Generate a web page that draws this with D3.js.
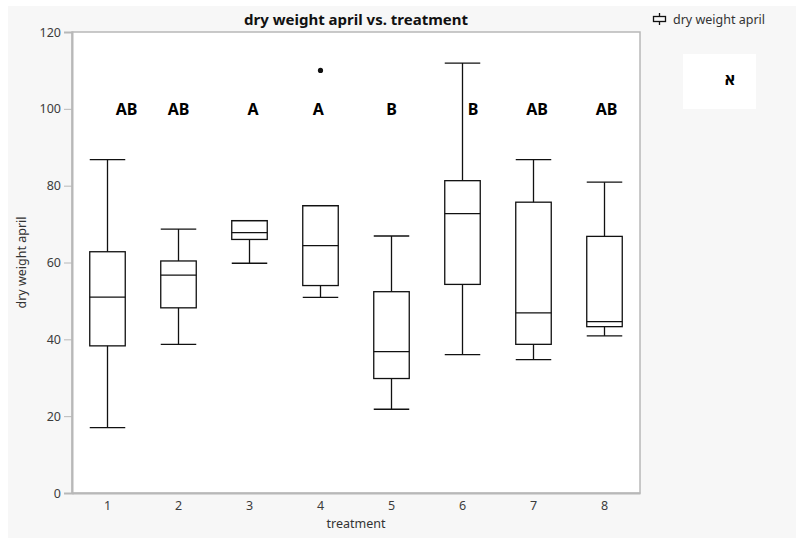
<!DOCTYPE html>
<html>
<head>
<meta charset="utf-8">
<script src="https://cdn.jsdelivr.net/npm/d3@7"></script>
<style>
  body { margin: 0; background: #fff; }
  svg { display: block; }
  text { font-family: "Noto Sans", "Open Sans", sans-serif; }
</style>
</head>
<body>
<svg width="796" height="538"></svg>
<script>
// box plot stats per treatment
var treatments = ["1", "2", "3", "4", "5", "6", "7", "8"];
var whiskerLow = [17, 38.7, 59.8, 50.9, 21.8, 36, 34.7, 40.9];
var q1 = [38.3, 48.2, 66, 54, 29.8, 54.3, 38.7, 43.3];
var median = [51, 56.7, 67.8, 64.4, 36.8, 72.7, 46.9, 44.6];
var q3 = [62.8, 60.4, 70.9, 74.8, 52.4, 81.3, 75.7, 66.8];
var whiskerHigh = [86.8, 68.7, 70.9, 74.8, 66.9, 111.9, 86.8, 80.9];
var outliers = [{t: "4", v: 110}];

// significance letters, with a small shift (fraction of the band) like the original
var letters = ["AB", "AB", "A", "A", "B", "B", "AB", "AB"];
var letterShift = [0.27, 0, 0.05, -0.03, 0, 0.15, 0.05, 0.03];
var letterValue = 100;

var yTicks = [0, 20, 40, 60, 80, 100, 120];

var svg = d3.select("svg"),
  width = +svg.attr("width"),
  height = +svg.attr("height");

var margin = {left: 72, right: 156, top: 32, bottom: 45};

// grey panel
svg.append("rect")
  .attr("x", 8).attr("y", 6)
  .attr("width", width - 8).attr("height", height - 6)
  .attr("fill", "#f7f7f7");

var x = d3.scaleBand()
  .domain(treatments)
  .range([margin.left, width - margin.right]);

var y = d3.scaleLinear()
  .domain([0, 120])
  .range([height - margin.bottom, margin.top]);

// plot frame
svg.append("rect")
  .attr("x", margin.left).attr("y", margin.top)
  .attr("width", width - margin.right - margin.left)
  .attr("height", height - margin.bottom - margin.top)
  .attr("fill", "#fff")
  .attr("stroke", "#b8b8b8")
  .attr("stroke-width", 1.5);

// axes
var yAxis = svg.append("g")
  .attr("transform", "translate(" + margin.left + ",0)")
  .call(d3.axisLeft(y).tickValues(yTicks).tickSize(8).tickPadding(3));
var xAxis = svg.append("g")
  .attr("transform", "translate(0," + (height - margin.bottom) + ")")
  .call(d3.axisBottom(x).tickSize(0).tickPadding(8));

[yAxis, xAxis].forEach(function(a) {
  a.select(".domain").attr("stroke", "#b8b8b8").attr("stroke-width", 2);
  a.selectAll(".tick line").attr("stroke", "#b8b8b8");
  a.selectAll(".tick text").attr("fill", "#3c3c3c").style("font-size", "12.5px")
    .style("font-family", "'Noto Sans', sans-serif");
});

// boxes
var bw = x.bandwidth() / 2;
var boxes = svg.append("g").selectAll("g")
  .data(treatments)
  .enter().append("g")
  .attr("transform", function(d) { return "translate(" + (x(d) + x.bandwidth() / 2) + ",0)"; });

boxes.append("line")
  .attr("x1", 0).attr("x2", 0)
  .attr("y1", function(d, i) { return y(whiskerLow[i]); })
  .attr("y2", function(d, i) { return y(whiskerHigh[i]); })
  .attr("stroke", "#111").attr("stroke-width", 1.3);

boxes.append("rect")
  .attr("x", -bw / 2)
  .attr("width", bw)
  .attr("y", function(d, i) { return y(q3[i]); })
  .attr("height", function(d, i) { return y(q1[i]) - y(q3[i]); })
  .attr("fill", "#fff")
  .attr("stroke", "#111").attr("stroke-width", 1.3);

boxes.append("line")
  .attr("x1", -bw / 2).attr("x2", bw / 2)
  .attr("y1", function(d, i) { return y(median[i]); })
  .attr("y2", function(d, i) { return y(median[i]); })
  .attr("stroke", "#111").attr("stroke-width", 1.3);

boxes.append("line")
  .attr("x1", -bw / 2).attr("x2", bw / 2)
  .attr("y1", function(d, i) { return y(whiskerHigh[i]); })
  .attr("y2", function(d, i) { return y(whiskerHigh[i]); })
  .attr("stroke", "#111").attr("stroke-width", 1.3);

boxes.append("line")
  .attr("x1", -bw / 2).attr("x2", bw / 2)
  .attr("y1", function(d, i) { return y(whiskerLow[i]); })
  .attr("y2", function(d, i) { return y(whiskerLow[i]); })
  .attr("stroke", "#111").attr("stroke-width", 1.3);

svg.append("g").selectAll("circle")
  .data(outliers)
  .enter().append("circle")
  .attr("cx", function(d) { return x(d.t) + x.bandwidth() / 2; })
  .attr("cy", function(d) { return y(d.v); })
  .attr("r", 2.6)
  .attr("fill", "#111");

// letters
svg.append("g").selectAll("text")
  .data(letters)
  .enter().append("text")
  .attr("x", function(d, i) { return x(treatments[i]) + x.bandwidth() * (0.5 + letterShift[i]); })
  .attr("y", y(letterValue) + 6)
  .attr("text-anchor", "middle")
  .style("font-size", "16px")
  .style("font-weight", "bold")
  .attr("fill", "#000")
  .text(function(d) { return d; });

// title and axis titles
svg.append("text")
  .attr("x", (margin.left + width - margin.right) / 2)
  .attr("y", 25)
  .attr("text-anchor", "middle")
  .style("font-size", "15px")
  .style("font-weight", "bold")
  .attr("fill", "#111")
  .text("dry weight april vs. treatment");

svg.append("text")
  .attr("x", (margin.left + width - margin.right) / 2)
  .attr("y", 528)
  .attr("text-anchor", "middle")
  .style("font-size", "12.5px")
  .attr("fill", "#333")
  .text("treatment");

svg.append("text")
  .attr("transform", "translate(26," + y(60) + ") rotate(-90)")
  .attr("text-anchor", "middle")
  .style("font-size", "12.5px")
  .attr("fill", "#333")
  .text("dry weight april");

// legend
var legend = svg.append("g").attr("transform", "translate(653,13)");
legend.append("line")
  .attr("x1", 6.5).attr("x2", 6.5).attr("y1", 0).attr("y2", 12)
  .attr("stroke", "#111").attr("stroke-width", 1.3);
legend.append("rect")
  .attr("x", 0.5).attr("y", 3.5).attr("width", 12).attr("height", 5)
  .attr("fill", "#f7f7f7").attr("stroke", "#111").attr("stroke-width", 1.3);
legend.append("text")
  .attr("x", 20).attr("y", 11)
  .style("font-size", "12.5px")
  .attr("fill", "#333")
  .text("dry weight april");

// note box with hebrew letter
svg.append("rect")
  .attr("x", 683).attr("y", 54).attr("width", 73).attr("height", 55)
  .attr("fill", "#fff");
svg.append("text")
  .attr("x", 730).attr("y", 85)
  .attr("text-anchor", "middle")
  .style("font-size", "16px")
  .style("font-weight", "bold")
  .attr("fill", "#000")
  .text("א");
</script>
</body>
</html>
